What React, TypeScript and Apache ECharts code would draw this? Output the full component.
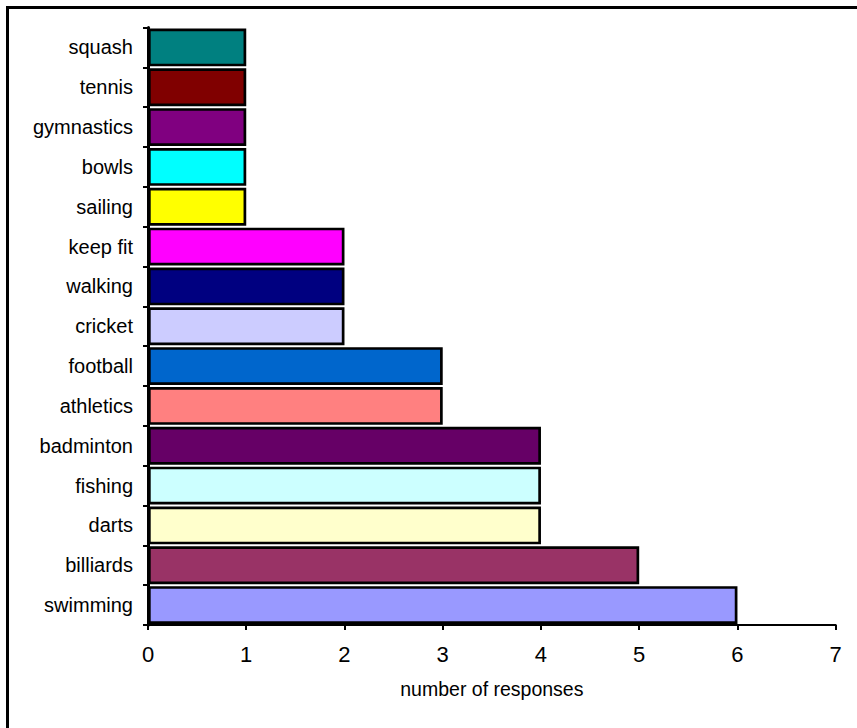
import React, { useEffect, useRef } from "react";
import * as echarts from "echarts";

const categories = [
  "swimming",
  "billiards",
  "darts",
  "fishing",
  "badminton",
  "athletics",
  "football",
  "cricket",
  "walking",
  "keep fit",
  "sailing",
  "bowls",
  "gymnastics",
  "tennis",
  "squash",
];
const responses = [6, 5, 4, 4, 4, 3, 3, 2, 2, 2, 1, 1, 1, 1, 1];
const barColors = [
  "#9999FF",
  "#993366",
  "#FFFFCC",
  "#CCFFFF",
  "#660066",
  "#FF8080",
  "#0066CC",
  "#CCCCFF",
  "#000080",
  "#FF00FF",
  "#FFFF00",
  "#00FFFF",
  "#800080",
  "#800000",
  "#008080",
];
const xTicks = [0, 1, 2, 3, 4, 5, 6, 7];

export default function App() {
  const ref = useRef<HTMLDivElement>(null);
  useEffect(() => {
    if (!ref.current) return;
    const chart = echarts.init(ref.current, undefined, { renderer: "svg" });
    const font = "Liberation Sans, Arial, sans-serif";
    chart.setOption({
      animation: false,
      backgroundColor: "#ffffff",
      graphic: [
        {
          type: "line",
          shape: { x1: 6, y1: 7.5, x2: 857, y2: 7.5 },
          style: { stroke: "#000", lineWidth: 3 },
        },
        {
          type: "line",
          shape: { x1: 7.5, y1: 6, x2: 7.5, y2: 728 },
          style: { stroke: "#000", lineWidth: 3 },
        },
      ],
      grid: { left: 148, top: 27.5, right: 21.3, bottom: 103, containLabel: false },
      xAxis: {
        type: "value",
        min: xTicks[0],
        max: xTicks[xTicks.length - 1],
        interval: 1,
        name: "number of responses",
        nameLocation: "middle",
        nameGap: 54,
        nameTextStyle: { color: "#000", fontSize: 19.5, fontFamily: font },
        axisLine: { show: true, lineStyle: { color: "#000", width: 2 } },
        axisTick: { show: true, length: 5, lineStyle: { color: "#000", width: 2 } },
        axisLabel: { color: "#000", fontSize: 22, fontFamily: font, margin: 18 },
        splitLine: { show: false },
      },
      yAxis: {
        type: "category",
        data: categories,
        axisLine: { show: true, lineStyle: { color: "#000", width: 3 } },
        axisTick: { show: true, length: 5, lineStyle: { color: "#000", width: 2 } },
        axisLabel: { color: "#000", fontSize: 20, fontFamily: font, margin: 15 },
      },
      series: [
        {
          type: "bar",
          data: responses.map((v, i) => ({
            value: v,
            itemStyle: { color: barColors[i] },
          })),
          barCategoryGap: "5%",
          itemStyle: { borderColor: "#000", borderWidth: 2.7 },
        },
      ],
    });
    return () => chart.dispose();
  }, []);
  return (
    <div
      ref={ref}
      style={{ position: "absolute", left: 0, top: 0, width: 857, height: 728 }}
    />
  );
}
